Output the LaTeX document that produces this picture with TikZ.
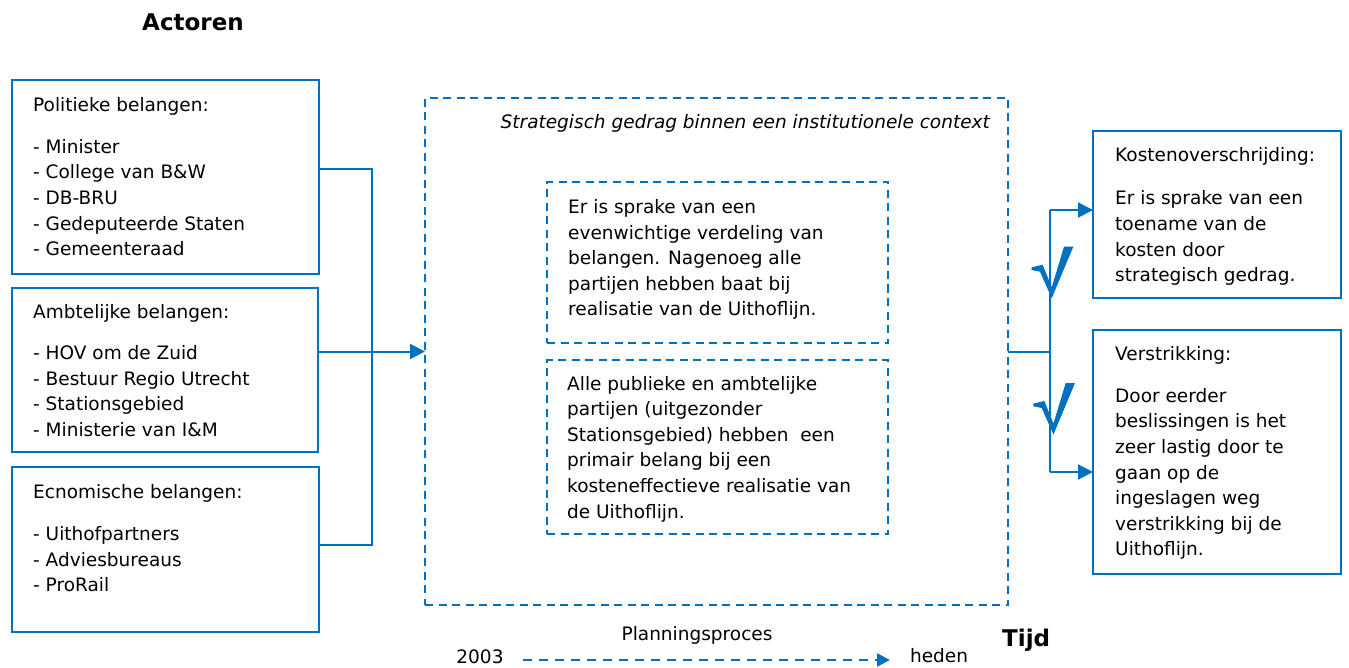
\documentclass[tikz,border=0pt]{standalone}
\usepackage{fontspec}
\setmainfont{DejaVu Sans}
\usetikzlibrary{arrows.meta}
\definecolor{accent}{HTML}{0070C0}
% left-aligned stack of lines whose baseline is the first line
\newcommand\stack[1]{\begin{tabular}[t]{@{}l@{}}#1\end{tabular}}

\begin{document}
\begin{tikzpicture}[x=1pt,y=-1pt,
  box/.style={draw=accent, line width=2pt, anchor=north west, inner sep=0pt, outer sep=0pt},
  dbox/.style={draw=accent, line width=2.5pt, dash pattern=on 8pt off 5.5pt,
               anchor=north west, inner sep=0pt, outer sep=0pt},
  txt/.style={anchor=base west, inner sep=0pt, font=\fontsize{18.5}{25.6}\selectfont},
  heading/.style={inner sep=0pt, font=\fontsize{23}{28}\selectfont\bfseries},
  link/.style={draw=accent, line width=2pt},
  tip/.style={-{Triangle[length=15pt,width=15pt]}},
  pics/vmark/.style={code={
    \fill[accent] (0,0) -- (11,-2.6) -- (20,20) -- (32.3,-20.6) -- (41.6,-20.6)
      -- (20,31) -- (8.3,4.4) -- (0,2.7) -- cycle;}}
]
\useasboundingbox (0,0) rectangle (1349,668);

% headings
\node[heading, anchor=base] (actoren) at (193,30.5) {Actoren};
\node[heading, anchor=base west] (tijd) at (1002,646.5) {Tijd};

% actor boxes
\node[box, minimum width=307pt, minimum height=194pt] (pol) at (12,80) {};
\node[txt] (polT) at (33,111.5) {Politieke belangen:};
\node[txt] (polL) at (33,153.3) {\stack{- Minister\\- College van B\&W\\- DB-BRU\\- Gedeputeerde Staten\\- Gemeenteraad}};

\node[box, minimum width=306pt, minimum height=164pt] (amb) at (12,288) {};
\node[txt] (ambT) at (33,318.5) {Ambtelijke belangen:};
\node[txt] (ambL) at (33,359.5) {\stack{- HOV om de Zuid\\- Bestuur Regio Utrecht\\- Stationsgebied\\- Ministerie van I\&M}};

\node[box, minimum width=307pt, minimum height=165pt] (eco) at (12,467) {};
\node[txt] (ecoT) at (33,498.5) {Ecnomische belangen:};
\node[txt] (ecoL) at (33,540.5) {\stack{- Uithofpartners\\- Adviesbureaus\\- ProRail}};

% institutional context
\node[dbox, minimum width=583pt, minimum height=507pt] (ctx) at (425,98) {};
\node[inner sep=0pt, anchor=base east, font=\fontsize{18.5}{25.6}\selectfont\itshape] (ctxT) at (990,129)
  {Strategisch gedrag binnen een institutionele context};

\node[dbox, minimum width=341pt, minimum height=161pt] (in1) at (547,182) {};
\node[txt] (in1T) at (568,213.5) {\stack{Er is sprake van een\\evenwichtige verdeling van\\belangen. Nagenoeg alle\\partijen hebben baat bij\\realisatie van de Uithoflijn.}};

\node[dbox, minimum width=341pt, minimum height=174pt] (in2) at (547,360) {};
\node[txt] (in2T) at (567,390) {\stack{Alle publieke en ambtelijke\\partijen (uitgezonder\\Stationsgebied) hebben~ een\\primair belang bij een\\kosteneffectieve realisatie van\\de Uithoflijn.}};

% outcome boxes
\node[box, minimum width=248pt, minimum height=167pt] (kos) at (1093,131) {};
\node[txt] (kosT) at (1115,161.7) {Kostenoverschrijding:};
\node[txt] (kosL) at (1115,205) {\stack{Er is sprake van een\\toename van de\\kosten door\\strategisch gedrag.}};

\node[box, minimum width=248pt, minimum height=244pt] (ver) at (1093,330) {};
\node[txt] (verT) at (1115,360) {Verstrikking:};
\node[txt] (verL) at (1115,402.3) {\stack{Door eerder\\beslissingen is het\\zeer lastig door te\\gaan op de\\ingeslagen weg\\verstrikking bij de\\Uithoflijn.}};

% actors feed into the context
\coordinate (busT) at (372,169);
\coordinate (busB) at (372,545);
\draw[link] (pol.east |- busT) -- (busT) -- (busB) -- (eco.east |- busB);
\draw[link, tip] (amb.east |- ctx.west) -- (ctx.west);

% context leads to the outcomes
\coordinate (rMid) at (1050,351.5);
\coordinate (rTop) at (1050,210);
\coordinate (rBot) at (1050,472);
\draw[link] (ctx.east |- rMid) -- (rMid);
\draw[link] (rTop) -- (rBot);
\draw[link, tip] (rTop) -- (rTop -| kos.west);
\draw[link, tip] (rBot) -- (rBot -| ver.west);
\pic at (1031.7,267.3) {vmark};
\pic at (1033.4,403.6) {vmark};

% time axis
\node[txt, anchor=base] (plan) at (697,640) {Planningsproces};
\node[txt, anchor=base] (start) at (480,663.5) {2003};
\node[txt, anchor=base] (now) at (939,662.5) {heden};
\coordinate (axA) at (523,660);
\coordinate (axB) at (890,660);
\draw[draw=accent, line width=2.5pt, dash pattern=on 9pt off 7pt,
      -{Triangle[length=13pt,width=13pt]}] (axA) -- (axB);
\end{tikzpicture}
\end{document}
